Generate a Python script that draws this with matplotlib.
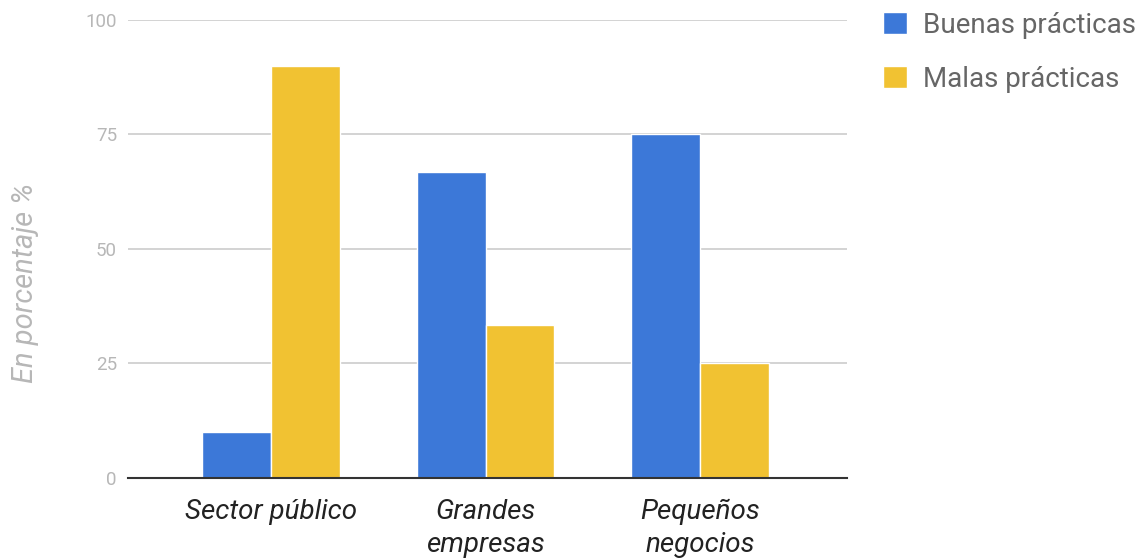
import matplotlib.pyplot as plt
import numpy as np

plt.rcParams['font.family'] = ['Roboto', 'DejaVu Sans']

categories = ['Sector público', 'Grandes\nempresas', 'Pequeños\nnegocios']
buenas = [10, 66.7, 75]
malas = [90, 33.3, 25]
series_names = ['Buenas prácticas', 'Malas prácticas']
colors = ['#3c78d8', '#f1c232']
yticks = [0, 25, 50, 75, 100]

fig = plt.figure(figsize=(11.43, 5.58), dpi=100)
ax = fig.add_axes([0.112, 0.1434, 0.629, 0.8208])

x = np.arange(len(categories))
width = 0.32
ax.bar(x - width / 2, buenas, width, color=colors[0], edgecolor='white', linewidth=1,
       label=series_names[0], zorder=3)
ax.bar(x + width / 2, malas, width, color=colors[1], edgecolor='white', linewidth=1,
       label=series_names[1], zorder=3)

ax.set_xlim(-0.667, 2.685)
ax.set_ylim(0, 100)
ax.set_yticks(yticks)
ax.set_yticklabels([str(v) for v in yticks], color='#b7b7b7', fontsize=13.5)
ax.set_xticks(x)
ax.set_xticklabels(categories, fontsize=20, style='italic', color='#222222',
                   linespacing=1.36, va='top')
ax.tick_params(axis='both', length=0)
ax.tick_params(axis='y', pad=8)
ax.tick_params(axis='x', pad=15)
ax.grid(True, axis='y', color='#cccccc', linewidth=1.2, zorder=0)
for s in ['top', 'right', 'left']:
    ax.spines[s].set_visible(False)
ax.spines['bottom'].set_color('#333333')
ax.spines['bottom'].set_linewidth(1.5)
ax.spines['bottom'].set_zorder(4)

fig.text(0.022, 0.493, 'En porcentaje %', rotation=90, va='center', ha='center',
         fontsize=21, style='italic', color='#b7b7b7')

leg = ax.legend(loc='upper left', bbox_to_anchor=(1.035, 1.0425), frameon=False,
                fontsize=20, handlelength=0.86, handleheight=0.86,
                handletextpad=0.58, labelspacing=0.97, labelcolor='#666666',
                borderaxespad=0)

fig.savefig('out.png', dpi=100)
